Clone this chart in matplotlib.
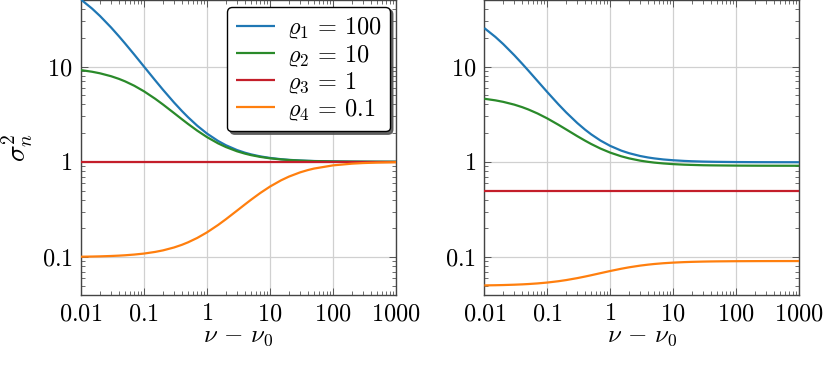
import matplotlib
matplotlib.use("Agg")
import matplotlib.pyplot as plt
from matplotlib.ticker import FixedLocator, FixedFormatter, LogLocator, NullFormatter

plt.rcParams['mathtext.fontset'] = 'cm'
plt.rcParams['font.family'] = 'serif'
plt.rcParams['font.serif'] = ['cmr10', 'DejaVu Serif']
plt.rcParams['axes.unicode_minus'] = False

# ---- data ----
x = [0.01, 0.015, 0.02, 0.03, 0.04, 0.05, 0.07, 0.1, 0.15, 0.2, 0.3, 0.4, 0.5, 0.7, 1, 1.5,
     2, 3, 4, 5, 7, 10, 15, 20, 30, 40, 50, 100, 200, 300, 500, 1000]

labels = [r'$\varrho_1\,=\,100$', r'$\varrho_2\,=\,10$', r'$\varrho_3\,=\,1$', r'$\varrho_4\,=\,0.1$']

left_rho1 = [50.5, 40.6, 34.0, 25.75, 20.8, 17.5, 13.38, 10.0, 7.19, 5.714, 4.194, 3.415, 2.941,
             2.394, 1.980, 1.656, 1.493, 1.329, 1.247, 1.198, 1.141, 1.099, 1.066, 1.049, 1.033,
             1.025, 1.020, 1.010, 1.005, 1.003, 1.002, 1.001]
left_rho2 = [9.182, 8.826, 8.5, 7.923, 7.429, 7.0, 6.294, 5.5, 4.6, 4.0, 3.25, 2.8, 2.5, 2.125,
             1.818, 1.5625, 1.429, 1.290, 1.2195, 1.176, 1.127, 1.089, 1.0596, 1.045, 1.030,
             1.0224, 1.018, 1.009, 1.0045, 1.003, 1.0018, 1.0009]
left_rho3 = [1.0] * 32
left_rho4 = [0.1009, 0.10135, 0.1018, 0.1027, 0.10359, 0.1045, 0.1063, 0.1089, 0.1133, 0.1176,
             0.1262, 0.1346, 0.1429, 0.1589, 0.1818, 0.2174, 0.25, 0.3077, 0.3571, 0.4, 0.4706,
             0.55, 0.64, 0.7, 0.775, 0.82, 0.85, 0.918, 0.957, 0.971, 0.982, 0.991]

right_rho1 = [25.37, 20.48, 17.22, 13.15, 10.71, 9.091, 7.063, 5.405, 4.025, 3.302, 2.556, 2.174,
              1.942, 1.674, 1.471, 1.311, 1.232, 1.151, 1.111, 1.087, 1.059, 1.039, 1.0224,
              1.014, 1.006, 1.0022, 0.9998, 0.9949, 0.9925, 0.9917, 0.9911, 0.9906]
right_rho2 = [4.595, 4.421, 4.262, 3.985, 3.75, 3.548, 3.220, 2.857, 2.453, 2.188, 1.860, 1.667,
              1.538, 1.379, 1.25, 1.143, 1.087, 1.029, 1.0, 0.982, 0.962, 0.946, 0.9337, 0.928,
              0.921, 0.9184, 0.917, 0.913, 0.911, 0.9103, 0.910, 0.9095]
right_rho3 = [0.5] * 32
right_rho4 = [0.05045, 0.05066, 0.05088, 0.05131, 0.05172, 0.05213, 0.05292, 0.05405, 0.05579,
              0.05738, 0.06015, 0.0625, 0.06452, 0.06780, 0.07143, 0.07547, 0.07813, 0.08140,
              0.08333, 0.08462, 0.08621, 0.08750, 0.08857, 0.08913, 0.08971, 0.09, 0.09018,
              0.09054, 0.09072, 0.09079, 0.09083, 0.09087]

xticks = [0.01, 0.1, 1, 10, 100, 1000]
xticklabels = ['$0.01$', '$0.1$', '$1$', '$10$', '$100$', '$1000$']
yticks = [0.1, 1, 10]
yticklabels = ['$0.1$', '$1$', '$10$']

colors = ['#1f77b4', '#2a8a2a', '#c41e2a', '#ff7f0e']

fig = plt.figure(figsize=(8.31, 3.65), dpi=100)
W, H = 831, 365
axL = fig.add_axes([81 / W, 1 - 295 / H, 315 / W, 295 / H])
axR = fig.add_axes([484.3 / W, 1 - 295 / H, 314.7 / W, 295 / H])

series = {axL: [left_rho1, left_rho2, left_rho3, left_rho4],
          axR: [right_rho1, right_rho2, right_rho3, right_rho4]}

for ax in (axL, axR):
    for ys, c, lab in zip(series[ax], colors, labels):
        ax.plot(x, ys, color=c, lw=1.6, label=lab, solid_capstyle='butt', zorder=3)
    ax.set_xscale('log')
    ax.set_yscale('log')
    ax.set_xlim(0.01, 1000)
    ax.set_ylim(0.04, 50)
    ax.xaxis.set_major_locator(FixedLocator(xticks))
    ax.xaxis.set_major_formatter(FixedFormatter(xticklabels))
    ax.yaxis.set_major_locator(FixedLocator(yticks))
    ax.yaxis.set_major_formatter(FixedFormatter(yticklabels))
    ax.xaxis.set_minor_locator(LogLocator(base=10, subs=range(2, 10), numticks=20))
    ax.yaxis.set_minor_locator(LogLocator(base=10, subs=range(2, 10), numticks=20))
    ax.xaxis.set_minor_formatter(NullFormatter())
    ax.yaxis.set_minor_formatter(NullFormatter())
    ax.tick_params(which='both', direction='in', top=True, right=True, colors='#555555',
                   labelcolor='black', labelsize=17.5)
    ax.tick_params(which='major', length=5, width=0.7, pad=6)
    ax.tick_params(which='minor', length=3, width=0.6)
    ax.grid(True, which='major', color='#d0d0d0', lw=0.9, zorder=0)
    for s in ax.spines.values():
        s.set_color('#444444')
        s.set_linewidth(1.0)
    ax.set_xlabel(r'$\nu\,-\,\nu_0$', fontsize=18, labelpad=0)

axL.set_ylabel(r'$\sigma_n^2$', fontsize=20, labelpad=5)

leg = axL.legend(loc='upper right', bbox_to_anchor=(0.981, 0.977), borderaxespad=0,
                 fontsize=17.5, fancybox=True, shadow={'color': '#555555', 'alpha': 0.9},
                 framealpha=1, edgecolor='black', handlelength=1.6, labelspacing=0.05,
                 handletextpad=0.5, borderpad=0.35)
leg.get_frame().set_linewidth(1.0)

fig.savefig('out.png', dpi=100)
